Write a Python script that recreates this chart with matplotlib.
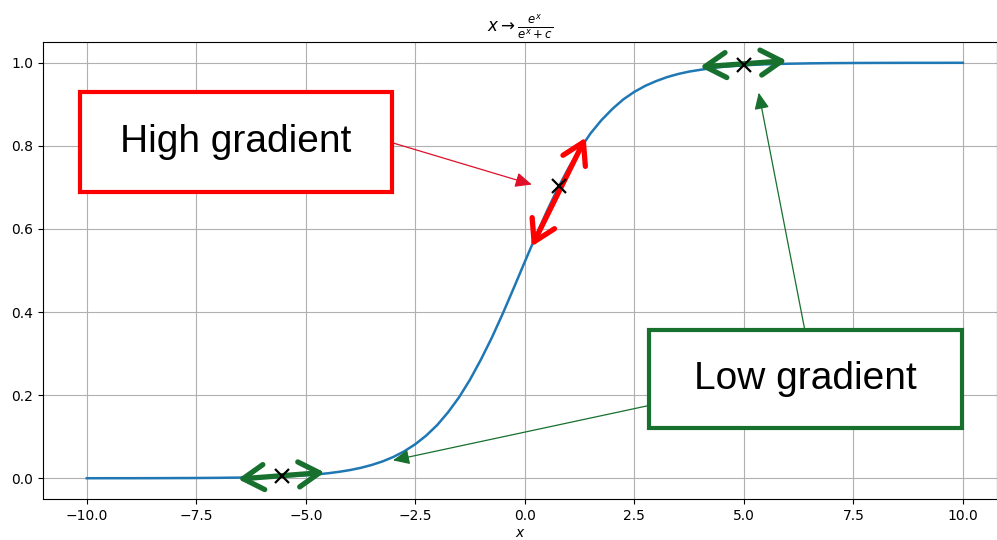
import matplotlib.pyplot as plt
from matplotlib.patches import Rectangle

# curve values
xs = [-10, -9.5, -9, -8.5, -8, -7.5, -7, -6.5, -6, -5.5, -5, -4.75, -4.5, -4.25,
      -4, -3.75, -3.5, -3.25, -3, -2.75, -2.5, -2.25, -2, -1.75, -1.5, -1.25,
      -1, -0.75, -0.5, -0.25, 0, 0.25, 0.5, 0.75, 1, 1.25, 1.5, 1.75, 2, 2.25,
      2.5, 2.75, 3, 3.25, 3.5, 3.75, 4, 4.25, 4.5, 4.75, 5, 5.25,
      5.5, 6, 6.5, 7, 7.5, 8, 8.5, 9, 9.5, 10]
ys = [0.0000, 0.0001, 0.0001, 0.0002, 0.0004, 0.0006, 0.0010, 0.0016, 0.0027, 0.0044,
      0.0073, 0.0093, 0.0119, 0.0153, 0.0195, 0.0249, 0.0318, 0.0404, 0.0513, 0.0650,
      0.0819, 0.1028, 0.128, 0.159, 0.195, 0.2375, 0.286, 0.339, 0.397, 0.4585,
      0.521, 0.5826, 0.642, 0.697, 0.747, 0.791, 0.830, 0.862, 0.889, 0.912,
      0.930, 0.9445, 0.956, 0.9656, 0.973, 0.9788, 0.983, 0.987, 0.990, 0.9921,
      0.9938, 0.9952, 0.9963, 0.9977, 0.9986, 0.9992, 0.9995, 0.9997, 0.9998,
      0.9999, 0.9999, 1.0]

# marked points
mark_x = [-5.55, 0.78, 5.0]
mark_y = [0.0042, 0.703, 0.9938]

# double-headed gradient arrows (start, end)
grad_arrows = [((-6.55, -0.002), (-4.57, 0.014), '#17702e'),
               ((0.16, 0.558), (1.39, 0.820), '#ff0000'),
               ((4.0, 0.990), (5.98, 1.005), '#17702e')]

# label boxes: x0, y0, x1, y1, text, colour
boxes = [(-10.16, 0.690, -3.04, 0.930, 'High gradient', '#ff0000'),
         (2.83, 0.120, 9.98, 0.358, 'Low gradient', '#17702e')]

# pointer arrows (from, to, colour)
pointers = [((-3.04, 0.808), (0.16, 0.707), '#e0102a'),
            ((2.83, 0.175), (-3.01, 0.043), '#17702e'),
            ((6.39, 0.358), (5.34, 0.928), '#17702e')]

fig = plt.figure(figsize=(9.97, 5.40), dpi=100)
ax = fig.add_axes([0.0431, 0.0759, 0.9569, 0.8463])

ax.plot(xs, ys, color='#1f77b4', lw=1.8, zorder=2)
ax.grid(True)
ax.set_axisbelow(True)
ax.set_xlim(-11, 10.78)
ax.set_ylim(-0.05, 1.05)
ax.set_xticks([-10, -7.5, -5, -2.5, 0, 2.5, 5, 7.5, 10])
ax.set_title(r'$x \rightarrow \frac{e^x}{e^x + c}$', fontsize=12)
ax.set_xlabel(r'$x$', labelpad=2.5)

for (p0, p1, col) in pointers:
    ax.annotate('', xy=p1, xytext=p0,
                arrowprops=dict(arrowstyle='-|>,head_length=1.0,head_width=0.45',
                                color=col, lw=0.9, shrinkA=0, shrinkB=0,
                                mutation_scale=10),
                zorder=3)

for (p0, p1, col) in grad_arrows:
    ax.annotate('', xy=p1, xytext=p0,
                arrowprops=dict(arrowstyle='<->,head_length=0.75,head_width=0.45',
                                color=col, lw=3.8, shrinkA=0, shrinkB=0,
                                mutation_scale=20, capstyle='round',
                                joinstyle='round'),
                zorder=4)

ax.plot(mark_x, mark_y, 'x', color='black', ms=10, mew=1.6, zorder=5)

for (x0, y0, x1, y1, txt, col) in boxes:
    ax.add_patch(Rectangle((x0, y0), x1 - x0, y1 - y0, facecolor='white',
                           edgecolor=col, lw=3, zorder=6))
    ax.text((x0 + x1) / 2, (y0 + y1) / 2, txt, fontsize=28,
            family='Liberation Sans', ha='center', va='center', zorder=7)

fig.savefig('out.png', dpi=100)
